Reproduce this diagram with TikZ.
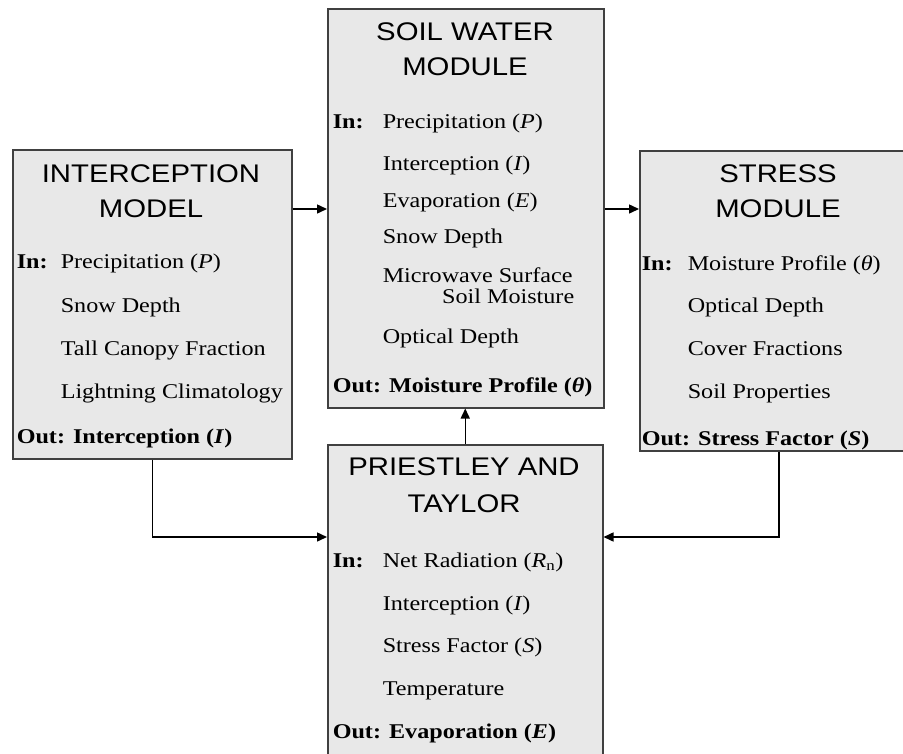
\documentclass[tikz,border=0pt]{standalone}
\usepackage{fontspec}
\setmainfont{Liberation Serif}[FakeStretch=1.15]
\newfontfamily\titlefont{Liberation Sans}[FakeStretch=1.15]
\usetikzlibrary{arrows.meta,positioning}

\begin{document}
\begin{tikzpicture}[x=1pt,y=-1pt,>={Triangle[length=10pt,width=9pt]},line width=1.5pt,
  module/.style={draw=black!75,fill=black!9,anchor=north west,inner sep=0pt},
  head/.style={anchor=base,inner sep=0pt,font=\titlefont\fontsize{25.5}{30}\selectfont},
  item/.style={anchor=base west,inner sep=0pt,font=\fontsize{21}{25}\selectfont},
  flow/.style={->,black}]
\useasboundingbox (0,0) rectangle (903,753);
\clip (0,0) rectangle (903,753);

\node (interc) at (12,149) [module,minimum width=279pt,minimum height=309pt] {};
\node (soil) at (327,8) [module,minimum width=276pt,minimum height=399pt] {};
\node (stress) at (639,150) [module,minimum width=278pt,minimum height=300pt] {};
\node (pt) at (327,444) [module,minimum width=275pt,minimum height=340pt] {};

\node (interc-h1) at (151,182) [head] {INTERCEPTION};
\node (interc-h2) at (151,217) [head] {MODEL};
\node (interc-in) at (16,268) [item] {\bfseries In:};
\node (interc-i1) at (60,268) [item] {Precipitation (\textit{P})};
\node (interc-i2) at (60,312) [item] {Snow Depth};
\node (interc-i3) at (60,355) [item] {Tall Canopy Fraction};
\node (interc-i4) at (60,398) [item] {Lightning Climatology};
\node (interc-out) at (16,443) [item] {\bfseries Out: Interception (\textit{I})};

\node (soil-h1) at (465,40) [head] {SOIL WATER};
\node (soil-h2) at (465,75) [head] {MODULE};
\node (soil-in) at (332,128) [item] {\bfseries In:};
\node (soil-i1) at (382,128) [item] {Precipitation (\textit{P})};
\node (soil-i2) at (382,170) [item] {Interception (\textit{I})};
\node (soil-i3) at (382,207) [item] {Evaporation (\textit{E})};
\node (soil-i4) at (382,243) [item] {Snow Depth};
\node (soil-i5) at (382,282) [item] {Microwave Surface};
\node (soil-i6) at (575,303) [item,anchor=base east] {Soil Moisture};
\node (soil-i7) at (382,343) [item] {Optical Depth};
\node (soil-out) at (332,392) [item] {\bfseries Out: Moisture Profile (\textit{θ})};

\node (stress-h1) at (778,182) [head] {STRESS};
\node (stress-h2) at (778,217) [head] {MODULE};
\node (stress-in) at (641,270) [item] {\bfseries In:};
\node (stress-i1) at (687,270) [item] {Moisture Profile (\textit{θ})};
\node (stress-i2) at (687,312) [item] {Optical Depth};
\node (stress-i3) at (687,355) [item] {Cover Fractions};
\node (stress-i4) at (687,398) [item] {Soil Properties};
\node (stress-out) at (641,445) [item] {\bfseries Out: Stress Factor (\textit{S})};

\node (pt-h1) at (464,475) [head] {PRIESTLEY AND};
\node (pt-h2) at (464,512) [head] {TAYLOR};
\node (pt-in) at (332,567) [item] {\bfseries In:};
\node (pt-i1) at (382,567) [item] {Net Radiation (\textit{R}\textsubscript{n})};
\node (pt-i2) at (382,610) [item] {Interception (\textit{I})};
\node (pt-i3) at (382,652) [item] {Stress Factor (\textit{S})};
\node (pt-i4) at (382,695) [item] {Temperature};
\node (pt-out) at (332,738) [item] {\bfseries Out: Evaporation (\textit{E})};

\coordinate (to-soil) at ([yshift=-60pt]interc.north east);
\coordinate (to-stress) at ([yshift=-59pt]stress.north west);
\coordinate (pt-left) at ([yshift=-93pt]pt.north west);
\coordinate (pt-right) at ([yshift=-93pt]pt.north east);

\draw[flow] (to-soil) -- (to-soil -| soil.west);
\draw[flow] (to-stress -| soil.east) -- (to-stress);
\draw[flow] (pt.north) -- (pt.north |- soil.south);
\draw[flow] (interc.south) |- (pt-left);
\draw[flow] (stress.south) |- (pt-right);
\end{tikzpicture}
\end{document}
